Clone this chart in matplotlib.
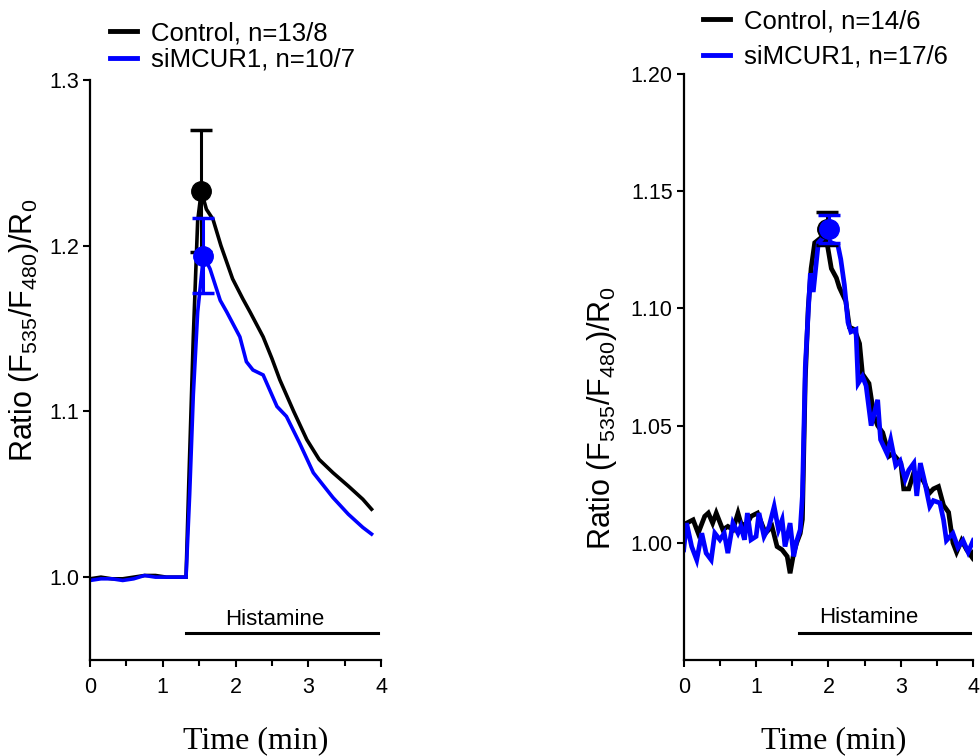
import numpy as np
import matplotlib
matplotlib.use('Agg')
import matplotlib.pyplot as plt
from matplotlib.lines import Line2D
from matplotlib.ticker import MultipleLocator, FormatStrFormatter

plt.rcParams['font.family'] = ['Liberation Sans', 'DejaVu Sans']
plt.rcParams['mathtext.fontset'] = 'custom'
plt.rcParams['mathtext.rm'] = 'Liberation Sans'
plt.rcParams['mathtext.it'] = 'Liberation Sans'
plt.rcParams['mathtext.default'] = 'rm'

# ---- left panel: mean traces ----
left_t_ctrl = [0, 0.15, 0.3, 0.45, 0.6, 0.75, 0.9, 1.05, 1.2, 1.32, 1.36, 1.42, 1.48, 1.53,
               1.6, 1.69, 1.8, 1.96, 2.1, 2.2, 2.38, 2.5, 2.61, 2.8, 2.98, 3.15, 3.34, 3.55,
               3.75, 3.87]
left_v_ctrl = [0.999, 1.0, 0.999, 0.999, 1.0, 1.001, 1.001, 1.0, 1.0, 1.0, 1.06, 1.145, 1.215,
               1.233, 1.222, 1.216, 1.2, 1.18, 1.168, 1.16, 1.145, 1.132, 1.119, 1.1, 1.083,
               1.071, 1.063, 1.055, 1.047, 1.041]
left_t_si = [0, 0.15, 0.3, 0.45, 0.6, 0.75, 0.9, 1.05, 1.2, 1.32, 1.37, 1.42, 1.48, 1.56, 1.65,
             1.79, 1.88, 2.06, 2.15, 2.24, 2.38, 2.57, 2.7, 2.88, 3.07, 3.34, 3.55, 3.75, 3.87]
left_v_si = [0.998, 0.999, 0.999, 0.998, 0.999, 1.001, 1.0, 1.0, 1.0, 1.0, 1.05, 1.11, 1.16,
             1.194, 1.186, 1.167, 1.16, 1.145, 1.13, 1.125, 1.122, 1.103, 1.097, 1.081, 1.063,
             1.048, 1.038, 1.03, 1.026]
left_peak_t = [1.53, 1.56]
left_peak_v = [1.233, 1.194]
left_peak_err = [0.037, 0.0225]
left_labels = ['Control, n=13/8', 'siMCUR1, n=10/7']
left_yticks = [1.0, 1.1, 1.2, 1.3]
left_hist = [1.32, 3.96]

# ---- right panel: mean traces ----
right_t_ctrl = [0.0, 0.04, 0.13, 0.20, 0.29, 0.34, 0.40, 0.45, 0.54, 0.61,
                0.68, 0.75, 0.79, 0.86, 0.93, 1.02, 1.13, 1.22, 1.29, 1.36,
                1.43, 1.47, 1.52, 1.56, 1.61, 1.64, 1.68, 1.72, 1.76, 1.81,
                1.89, 1.98, 2.04, 2.11, 2.15, 2.24, 2.29, 2.36, 2.43, 2.47,
                2.56, 2.63, 2.68, 2.75, 2.84, 2.89, 3.0, 3.04, 3.11, 3.18,
                3.25, 3.32, 3.39, 3.45, 3.52, 3.59, 3.66, 3.72, 3.77, 3.84,
                3.91, 3.98, 4.0]
right_v_ctrl = [1.0056, 1.0084, 1.0098, 1.0041, 1.0113, 1.0127, 1.0084, 1.0127, 1.0056, 1.007,
                1.0056, 1.0127, 1.0084, 1.007, 1.0113, 1.0127, 1.0041, 1.007, 0.9984, 0.997,
                0.9942, 0.987, 0.9956, 0.9999, 1.004, 1.01, 1.07, 1.10, 1.117, 1.128,
                1.13, 1.128, 1.117, 1.113, 1.109, 1.103, 1.092, 1.091, 1.085, 1.072,
                1.068, 1.054, 1.050, 1.047, 1.037, 1.038, 1.034, 1.023, 1.023, 1.030,
                1.029, 1.026, 1.021, 1.023, 1.024, 1.016, 1.013, 1.0, 0.996, 1.001,
                0.997, 0.994, 0.996]
right_t_si = [0.0, 0.04, 0.11, 0.18, 0.25, 0.31, 0.38, 0.43, 0.50, 0.56,
              0.61, 0.68, 0.75, 0.79, 0.84, 0.88, 0.93, 1.00, 1.04, 1.11,
              1.18, 1.25, 1.31, 1.36, 1.40, 1.47, 1.52, 1.56, 1.61, 1.64,
              1.68, 1.75, 1.79, 1.86, 1.95, 2.04, 2.13, 2.17, 2.22, 2.27,
              2.31, 2.38, 2.41, 2.47, 2.52, 2.59, 2.68, 2.72, 2.81, 2.86,
              2.93, 2.99, 3.06, 3.11, 3.18, 3.22, 3.27, 3.33, 3.40, 3.45,
              3.54, 3.59, 3.63, 3.72, 3.79, 3.86, 3.93, 4.0]
right_v_si = [0.997, 1.0084, 0.9984, 0.9927, 1.0041, 0.9956, 0.9927, 1.0041, 1.0013, 1.0041,
              0.9956, 1.0084, 1.0041, 1.007, 1.0013, 1.0127, 1.0013, 1.0027, 1.0127, 1.0027,
              1.007, 1.0155, 1.0056, 1.0098, 0.9984, 1.0084, 0.9942, 1.0006, 1.0056, 1.02,
              1.075, 1.115, 1.107, 1.128, 1.131, 1.128, 1.127, 1.121, 1.110, 1.094,
              1.090, 1.091, 1.068, 1.071, 1.067, 1.050, 1.061, 1.044, 1.038, 1.044,
              1.033, 1.035, 1.027, 1.031, 1.034, 1.020, 1.034, 1.026, 1.0155, 1.018,
              1.017, 1.0098, 1.001, 1.004, 0.998, 1.001, 0.996, 1.001]
right_peak_t = [1.98, 2.01]
right_peak_v = [1.134, 1.134]
right_peak_err = [0.007, 0.006]
right_labels = ['Control, n=14/6', 'siMCUR1, n=17/6']
right_yticks = [1.00, 1.05, 1.10, 1.15, 1.20]
right_hist = [1.59, 3.95]

colors = ['black', '#0000ff']


def style_axis(ax, ylim, yticks, yfmt):
    ax.set_xlim(0, 4)
    ax.set_ylim(*ylim)
    ax.spines['top'].set_visible(False)
    ax.spines['right'].set_visible(False)
    ax.spines['left'].set_linewidth(1.6)
    ax.spines['bottom'].set_linewidth(1.6)
    ax.xaxis.set_major_locator(MultipleLocator(1))
    ax.xaxis.set_minor_locator(MultipleLocator(0.5))
    ax.set_yticks(yticks)
    ax.yaxis.set_major_formatter(FormatStrFormatter(yfmt))
    ax.tick_params(which='major', length=5, width=1.5, labelsize=15.5, pad=3)
    ax.tick_params(axis='x', which='major', pad=7)
    ax.tick_params(which='minor', length=4, width=1.5)


def draw_panel(ax, traces, peaks, hist, hist_y, text_x, text_y, lw):
    for (t, v), c in zip(traces, colors):
        ax.plot(t, v, color=c, lw=lw, solid_joinstyle='miter')
    for pt, pv, pe, c in zip(peaks[0], peaks[1], peaks[2], colors):
        ax.errorbar([pt], [pv], yerr=[pe], fmt='o', color=c, ms=14, capsize=8,
                    elinewidth=2.2, capthick=2.5, zorder=5)
    ax.plot(hist, [hist_y, hist_y], color='black', lw=2.2, clip_on=False)
    ax.text(text_x, text_y, 'Histamine', ha='center', va='bottom', fontsize=16)


fig = plt.figure(figsize=(9.8, 7.56), dpi=100)
ax1 = fig.add_axes([90 / 980, 96 / 756, 291 / 980, 580 / 756])
ax2 = fig.add_axes([683.7 / 980, 96 / 756, 289.5 / 980, 586 / 756])

draw_panel(ax1, [(left_t_ctrl, left_v_ctrl), (left_t_si, left_v_si)],
           (left_peak_t, left_peak_v, left_peak_err), left_hist, 0.966, 2.54, 0.968, 2.6)
draw_panel(ax2, [(right_t_ctrl, right_v_ctrl), (right_t_si, right_v_si)],
           (right_peak_t, right_peak_v, right_peak_err), right_hist, 0.9615, 2.55, 0.9635, 3.4)

style_axis(ax1, (0.95, 1.3), left_yticks, '%.1f')
style_axis(ax2, (0.95, 1.2), right_yticks, '%.2f')

ylab = r'Ratio (F$_{535}$/F$_{480}$)/R$_0$'
fig.text(24 / 980, 1 - 330 / 756, ylab, rotation=90, ha='center', va='center', fontsize=22)
fig.text(602 / 980, 1 - 418 / 756, ylab, rotation=90, ha='center', va='center', fontsize=22)

for x in (256, 834):
    fig.text(x / 980, 1 - 748 / 756, 'Time (min)', ha='center', va='baseline', fontsize=23,
             family=['Liberation Serif', 'DejaVu Serif'])

leg_kw = dict(frameon=False, fontsize=18.5, handlelength=1.05, handletextpad=0.55,
              borderpad=0, borderaxespad=0, loc='upper left')
h = [Line2D([], [], color=c, lw=3.5) for c in colors]
fig.legend(h, left_labels, bbox_to_anchor=(110 / 980, 1 - 21 / 756), labelspacing=0.1, **leg_kw)
fig.legend(h, right_labels, bbox_to_anchor=(703 / 980, 1 - 9 / 756), labelspacing=0.45, **leg_kw)

fig.savefig('out.png', dpi=100)
